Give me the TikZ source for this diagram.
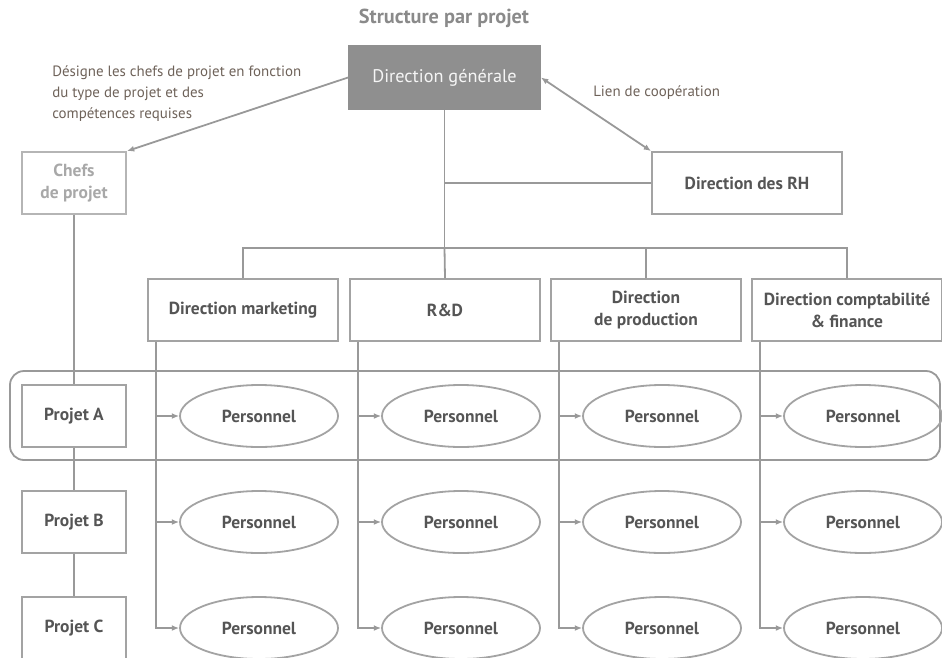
\documentclass[tikz,border=0pt]{standalone}
\usepackage{fontspec}
\setmainfont{PT Sans}
\usetikzlibrary{arrows.meta,shapes.geometric}
\definecolor{linegray}{HTML}{999999}
\definecolor{boxgray}{HTML}{A3A3A3}
\definecolor{labelgray}{HTML}{555555}
\definecolor{notegray}{HTML}{6E6259}
\definecolor{titlegray}{HTML}{8A8A8A}
\definecolor{dgfill}{HTML}{8F8F8F}
\definecolor{chefgray}{HTML}{A8A8A8}
\begin{document}
\begin{tikzpicture}[x=0.75pt,y=-0.75pt,
  lbl/.style={font=\fontsize{13.1}{16.5}\selectfont\bfseries, text=labelgray},
  box/.style={lbl, draw=boxgray, line width=1.35pt, minimum width=142.5pt,
    minimum height=46.5pt, inner sep=0pt, align=center},
  pbox/.style={box, minimum width=78pt},
  staff/.style={lbl, ellipse, draw=boxgray, line width=1.35pt,
    minimum width=118.5pt, minimum height=46.5pt, inner sep=0pt},
  note/.style={font=\fontsize{11.2}{15.75}\selectfont, text=notegray,
    inner sep=0pt, align=left},
  link/.style={draw=linegray, line width=1.35pt},
  tip/.tip={Latex[length=5.5pt,width=4.5pt]},
  feed/.style={link, -tip},
]
\useasboundingbox (0,0) rectangle (942,657);

% project A band
\draw[link, rounded corners=10.5pt] (10,371) rectangle (940,460);

% title and management
\node[font=\fontsize{15.2}{18}\selectfont\bfseries, text=titlegray] (title) at (444,18) {Structure par projet};
\node[box, fill=dgfill, draw=dgfill, minimum width=143.25pt, minimum height=47.25pt,
      font=\fontsize{13.7}{16}\selectfont, text=white!92!gray] (dg) at (444.5,77.5) {Direction générale};
\node[pbox, draw=boxgray!80, text=chefgray] (chefs) at (74,183) {Chefs\\de projet};
\node[box] (rh) at (747,183) {Direction des RH};

\node[note, anchor=west] (desc) at (52,94) {Désigne les chefs de projet en fonction\\du type de projet et des\\compétences requises};
\node[note, anchor=west] (coop) at (593,93) {Lien de coopération};

% functional departments
\node[box] (d1) at (243,310) {Direction marketing};
\node[box] (d2) at (445,310) {R\&D};
\node[box] (d3) at (646,310) {Direction\\de production};
\node[box] (d4) at (847,310) {Direction comptabilité\\\& finance};

% projects
\node[pbox] (pa) at (74,416) {Projet A};
\node[pbox] (pb) at (74,522) {Projet B};
\node[pbox] (pc) at (74,628) {Projet C};

% staff
\foreach \c/\x in {1/259,2/461,3/662,4/863}{
  \node[staff] (s\c a) at (\x,416) {Personnel};
  \node[staff] (s\c b) at (\x,522) {Personnel};
  \node[staff] (s\c c) at (\x,628) {Personnel};
}

% hierarchy links
\coordinate (bus) at (444.5,248);
\draw[feed] (dg.west) -- (chefs.north east);
\draw[link, tip-tip] (dg.east) -- (rh.north west);
\draw[link] (dg.south) -- (bus);
\draw[link] (rh.west) -- (rh.west -| dg.south);
\draw[link] (d1.north) |- (d4.north |- bus) -- (d4.north);
\draw[link] (bus) -- (d2.north);
\draw[link] (d3.north) -- (d3.north |- bus);

\draw[link] (chefs.south) -- (pa.north);
\draw[link] (pa.south) -- (pb.north);
\draw[link] (pb.south) -- (pc.north);

% staff assignment from each department
\foreach \c in {1,2,3,4}{
  \coordinate (v\c) at ([xshift=6.75pt]d\c.south west);
  \draw[feed] (v\c) |- (s\c c.west);
  \draw[feed] (v\c |- s\c a.west) -- (s\c a.west);
  \draw[feed] (v\c |- s\c b.west) -- (s\c b.west);
}
\end{tikzpicture}
\end{document}
